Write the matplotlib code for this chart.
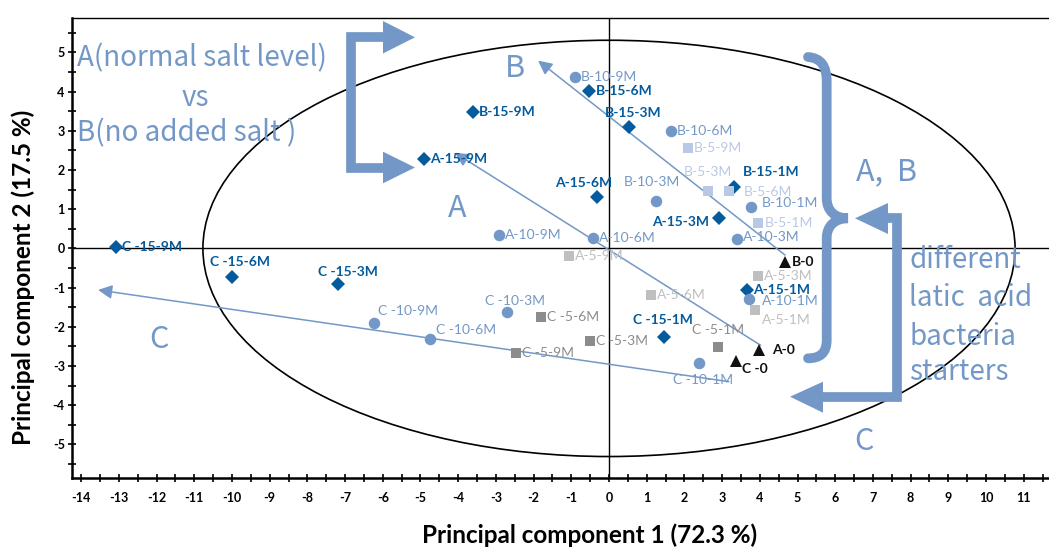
import numpy as np
import matplotlib
matplotlib.use('Agg')
import matplotlib.pyplot as plt
from matplotlib.patches import Ellipse, Polygon, PathPatch
from matplotlib.path import Path
from matplotlib.ticker import MultipleLocator, FuncFormatter

# ---------------- data ----------------
names_15 = ['A-15-1M', 'A-15-3M', 'A-15-6M', 'A-15-9M',
            'B-15-1M', 'B-15-3M', 'B-15-6M', 'B-15-9M',
            'C -15-1M', 'C -15-3M', 'C -15-6M', 'C -15-9M']
pc1_15 = [3.67, 2.93, -0.31, -4.91, 3.32, 0.54, -0.52, -3.60, 1.46, -7.20, -10.00, -13.08]
pc2_15 = [-1.06, 0.78, 1.32, 2.27, 1.57, 3.09, 4.01, 3.48, -2.26, -0.92, -0.74, 0.04]

names_10 = ['A-10-1M', 'A-10-3M', 'A-10-6M', 'A-10-9M',
            'B-10-1M', 'B-10-3M', 'B-10-6M', 'B-10-9M',
            'C -10-1M', 'C -10-3M', 'C -10-6M', 'C -10-9M']
pc1_10 = [3.71, 3.39, -0.43, -2.91, 3.77, 1.24, 1.65, -0.90, 2.38, -2.71, -4.74, -6.24]
pc2_10 = [-1.29, 0.24, 0.27, 0.33, 1.06, 1.21, 3.00, 4.38, -2.93, -1.62, -2.31, -1.91]

names_5 = ['A-5-1M', 'A-5-3M', 'A-5-6M', 'A-5-9M',
           'B-5-1M', 'B-5-3M', 'B-5-6M', 'B-5-9M',
           'C -5-1M', 'C -5-3M', 'C -5-6M', 'C -5-9M']
pc1_5 = [3.87, 3.95, 1.11, -1.06, 3.96, 2.63, 3.17, 2.09, 2.89, -0.51, -1.81, -2.47]
pc2_5 = [-1.57, -0.70, -1.19, -0.19, 0.65, 1.46, 1.46, 2.57, -2.51, -2.35, -1.75, -2.66]

names_0 = ['A-0', 'B-0', 'C -0']
pc1_0 = [3.99, 4.68, 3.36]
pc2_0 = [-2.58, -0.34, -2.87]

# trend arrows (start -> tip) for A, B, C
trend_start_x = [4.02, 4.67, 3.18]
trend_start_y = [-2.47, -0.17, -3.40]
trend_tip_x = [-4.09, -1.88, -13.55]
trend_tip_y = [2.44, 4.79, -1.06]

# confidence ellipse (semi axes)
ell_a, ell_b = 10.77, 5.31

x_ticks = list(range(-14, 12))
y_ticks = list(range(-5, 6))

# ---------------- styles ----------------
DARK = '#035a9c'
MID = '#7398c7'
LBLUE = '#b9c9e5'
LGRAY = '#bfbfbf'
DGRAY = '#8c8c8c'
LAB = ['Lato', 'DejaVu Sans']
BIG = ['Noto Sans CJK JP', 'DejaVu Sans']

plt.rcParams['axes.unicode_minus'] = False
plt.rcParams['font.family'] = LAB

W, H = 1049, 547
fig = plt.figure(figsize=(W / 100, H / 100), dpi=100)
L, R, T, B = 71.7, 1049.0, 18.3, 477.7
ax = fig.add_axes([L / W, (H - B) / H, (R - L) / W, (B - T) / H])
ax.set_xlim(-14.25, 11.67)
ax.set_ylim(-5.85, 5.87)

for s in ['left', 'bottom']:
    ax.spines[s].set_linewidth(1.8)
ax.spines['top'].set_linewidth(1.0)
ax.spines['right'].set_visible(False)

ax.set_xticks(x_ticks)
ax.set_yticks(y_ticks)
ax.xaxis.set_minor_locator(MultipleLocator(0.5))
ax.yaxis.set_minor_locator(MultipleLocator(0.5))
fmt = FuncFormatter(lambda v, p: '%d' % round(v))
ax.xaxis.set_major_formatter(fmt)
ax.yaxis.set_major_formatter(fmt)
ax.tick_params(which='both', direction='inout', length=6, width=1.2, color='black',
               labelsize=9, labelcolor='black')
ax.tick_params(axis='x', which='major', pad=7)
ax.tick_params(axis='y', which='major', pad=2)
plt.setp(ax.get_xticklabels() + ax.get_yticklabels(), fontweight='bold')

ax.axhline(0, color='black', lw=1.0, zorder=1)
ax.axvline(0, color='black', lw=1.0, zorder=1)

ax.add_patch(Ellipse((0, 0), 2 * ell_a, 2 * ell_b, fill=False, ec='black', lw=1.2, zorder=1))

for i in range(3):
    ax.annotate('', xy=(trend_tip_x[i], trend_tip_y[i]),
                xytext=(trend_start_x[i], trend_start_y[i]),
                arrowprops=dict(arrowstyle='-|>,head_length=0.6,head_width=0.3',
                                color=MID, lw=1.1, mutation_scale=14,
                                shrinkA=0, shrinkB=0), zorder=2)

# markers
ax.plot(pc1_15, pc2_15, 'D', ms=7.0, color=DARK, mew=0, zorder=4)
ax.plot(pc1_10, pc2_10, 'o', ms=8.3, color=MID, mew=0, zorder=4)
sq_cols = [LGRAY] * 4 + [LBLUE] * 4 + [DGRAY] * 4
for x, y, c in zip(pc1_5, pc2_5, sq_cols):
    ax.plot(x, y, 's', ms=6.7, color=c, mew=0, zorder=4)
ax.plot(pc1_0, pc2_0, '^', ms=8.0, color='#111111', mew=0, zorder=4)

# label placement (pixels: dx, dy up, ha)
place = {
    'C -15-6M': (8, 15.6, 'center'), 'C -15-3M': (10, 12.6, 'center'),
    'C -10-9M': (4, 12.6, 'left'), 'C -10-6M': (6, 9, 'left'),
    'C -10-3M': (8.6, 11, 'center'), 'B-15-3M': (3.4, 14, 'center'),
    'B-5-3M': (0, 18.7, 'center'), 'B-15-1M': (8.3, 14.4, 'left'),
    'B-10-1M': (11, 3.5, 'left'), 'A-15-6M': (-14, 14, 'center'),
    'B-10-3M': (-3.4, 18.7, 'center'), 'A-15-3M': (-10, -4, 'right'),
    'A-10-1M': (13, -1.7, 'left'), 'A-5-1M': (6.7, -10.3, 'left'),
    'C -15-1M': (-1.3, 17, 'center'), 'C -5-1M': (0, 16.7, 'center'),
    'A-0': (12.7, -0.7, 'left'), 'C -0': (6.3, -8.3, 'left'),
    'C -10-1M': (4, -16.3, 'center'), 'B-5-6M': (15, -0.5, 'left'),
    'A-10-3M': (6, 2, 'left'),
}


def label(names, xs, ys, cols, weight):
    for n, x, y, c in zip(names, xs, ys, cols):
        dx, dy, ha = place.get(n, (6, 0, 'left'))
        ax.annotate(n, (x, y), xytext=(dx * 0.72, dy * 0.72), textcoords='offset points',
                    ha=ha, va='center', fontsize=10, color=c, fontweight=weight,
                    family=LAB, zorder=5)


label(names_15, pc1_15, pc2_15, [DARK] * 12, 'bold')
label(names_10, pc1_10, pc2_10, [MID] * 12, 'normal')
label(names_5, pc1_5, pc2_5, sq_cols, 'normal')
label(names_0, pc1_0, pc2_0, ['#111111'] * 3, 'bold')

# axis titles
fig.text(590 / W, 1 - 535 / H, 'Principal component 1 (72.3 %)', ha='center', va='center',
         fontsize=17.5, fontweight='bold', family=LAB)
fig.text(23.3 / W, 1 - 277.5 / H, 'Principal component 2 (17.5 %)', ha='center', va='center',
         rotation=90, fontsize=17.5, fontweight='bold', family=LAB)

# ---------------- overlay decorations (pixel coordinates) ----------------
ov = fig.add_axes([0, 0, 1, 1], zorder=5)
ov.set_xlim(0, W)
ov.set_ylim(H, 0)
ov.axis('off')
ov.patch.set_alpha(0)

thick = 7.0
# upper-left bracket with two arrows
ov.plot([383.3, 350.5, 350.5, 383.3], [37.3, 37.3, 168, 168], color=MID, lw=thick,
        solid_joinstyle='miter', solid_capstyle='butt')
ov.add_patch(Polygon([(383, 21), (415, 37.3), (383, 53.5)], closed=True, fc=MID, ec='none'))
ov.add_patch(Polygon([(383, 151.7), (415, 167.5), (383, 183.3)], closed=True, fc=MID, ec='none'))

# right brace
verts = [(808, 57), (821, 58), (826.7, 66), (826.7, 82),
         (826.7, 198),
         (826.7, 211), (835, 218.3), (848, 218.3),
         (835, 218.3), (826.7, 226), (826.7, 238),
         (826.7, 340),
         (826.7, 353), (820, 358.3), (808, 358.3)]
codes = [Path.MOVETO, Path.CURVE4, Path.CURVE4, Path.CURVE4,
         Path.LINETO,
         Path.CURVE4, Path.CURVE4, Path.CURVE4,
         Path.CURVE4, Path.CURVE4, Path.CURVE4,
         Path.LINETO,
         Path.CURVE4, Path.CURVE4, Path.CURVE4]
ov.add_patch(PathPatch(Path(verts, codes), fc='none', ec=MID, lw=thick, capstyle='round'))

# right C arrow
ov.plot([886, 896.7, 896.7, 823], [218.3, 218.3, 396.7, 396.7], color=MID, lw=thick,
        solid_joinstyle='miter', solid_capstyle='butt')
ov.add_patch(Polygon([(888, 203), (855, 218.3), (888, 234)], closed=True, fc=MID, ec='none'))
ov.add_patch(Polygon([(823, 381.7), (790, 396.7), (823, 412.7)], closed=True, fc=MID, ec='none'))

bigfs = 20
ov.text(76.7, 58.3, 'A(normal salt level)', ha='left', va='center', fontsize=bigfs, color=MID, family=BIG)
ov.text(195, 98.3, 'vs', ha='center', va='center', fontsize=bigfs, color=MID, family=BIG)
ov.text(76.7, 133.3, 'B(no added salt )', ha='left', va='center', fontsize=bigfs, color=MID, family=BIG)
ov.text(515, 68.3, 'B', ha='center', va='center', fontsize=bigfs + 2, color=MID, family=BIG)
ov.text(457.3, 208.3, 'A', ha='center', va='center', fontsize=bigfs + 2, color=MID, family=BIG)
ov.text(887, 171.7, 'A,  B', ha='center', va='center', fontsize=bigfs + 2, color=MID, family=BIG)
ov.text(159, 340, 'C', ha='center', va='center', fontsize=bigfs + 2, color=MID, family=BIG)
ov.text(864, 441.7, 'C', ha='center', va='center', fontsize=bigfs + 2, color=MID, family=BIG)
for txt, yy in zip(['different', 'latic  acid', 'bacteria', 'starters'], [260, 298, 336.7, 371.7]):
    ov.text(909.3, yy, txt, ha='left', va='center', fontsize=bigfs, color=MID, family=BIG)

fig.savefig('out.png', dpi=100)
